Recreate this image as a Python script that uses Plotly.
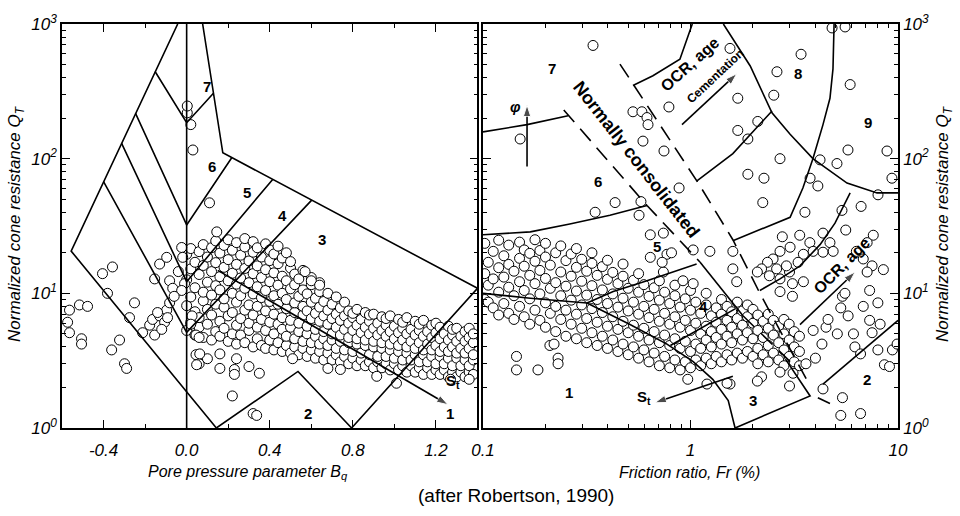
import math
import plotly.graph_objects as go

# ---------------- DATA ----------------
# Left panel: Bq vs Q_T  (columns of points: Bq, list of Q_T)
left_columns = [
    (0.00, [5.3, 8.1, 12.6, 19.5]), (0.02, [6.1, 9.4, 15.2, 21.5]), (0.04, [4.9, 7.3, 11.0, 17.0]),
    (0.06, [5.6, 6.6, 13.8, 20.4]), (0.08, [4.7, 8.8, 10.2, 16.1, 23.0]), (0.10, [5.9, 7.6, 12.1, 18.6]),
    (0.12, [4.5, 6.9, 9.7, 14.5, 21.8]), (0.14, [5.2, 8.3, 11.4, 16.9, 24.5]),
    (0.16, [4.8, 6.2, 10.6, 13.3, 19.9]), (0.18, [5.5, 7.9, 9.1, 15.6, 22.7]),
    (0.20, [4.4, 6.8, 12.4, 17.8, 25.0]), (0.22, [5.0, 7.2, 10.0, 14.1, 20.9]),
    (0.24, [4.2, 5.8, 8.6, 11.7, 16.4, 23.8]), (0.26, [4.9, 6.5, 9.6, 13.0, 19.2]),
    (0.28, [4.3, 7.5, 10.9, 15.3, 22.1, 25.5]), (0.30, [5.3, 6.0, 8.2, 12.0, 17.4]),
    (0.32, [4.0, 6.9, 9.9, 14.0, 20.2, 24.2]), (0.34, [4.6, 5.6, 8.0, 11.2, 16.0, 21.8]),
    (0.36, [4.1, 6.4, 9.3, 13.1, 18.6]), (0.38, [3.9, 5.3, 7.4, 10.5, 15.0, 23.3]),
    (0.40, [4.5, 6.1, 8.7, 12.2, 17.5, 21.0]), (0.42, [3.8, 5.0, 7.0, 9.6, 14.2, 19.6]),
    (0.44, [4.3, 5.9, 8.3, 11.5, 16.6, 22.4]), (0.46, [3.7, 5.4, 6.6, 10.0, 13.4, 18.3]),
    (0.48, [4.1, 4.8, 7.7, 9.0, 12.4, 20.0]), (0.50, [3.6, 5.6, 6.3, 10.8, 15.4, 17.2]),
    (0.52, [4.0, 4.6, 7.2, 8.5, 11.6, 13.9]), (0.54, [3.5, 5.2, 6.0, 9.5, 12.8]),
    (0.56, [3.9, 4.4, 6.9, 8.0, 10.6, 14.8]), (0.58, [3.4, 5.0, 5.7, 7.4, 9.9]),
    (0.60, [3.8, 4.3, 6.5, 8.6, 11.6, 13.1]), (0.62, [3.3, 4.8, 5.4, 7.1, 9.2]),
    (0.64, [3.7, 4.2, 6.2, 7.9, 10.3, 12.0]), (0.66, [3.2, 4.6, 5.2, 6.8, 8.7]),
    (0.68, [3.6, 4.1, 5.9, 7.5, 10.0]), (0.70, [3.2, 4.5, 5.0, 6.5, 8.3]),
    (0.72, [3.5, 3.9, 5.6, 7.0, 9.4]), (0.74, [3.1, 4.4, 4.9, 6.3, 7.8]),
    (0.76, [3.4, 3.8, 5.4, 6.8, 8.6]), (0.78, [3.0, 4.3, 4.7, 6.0, 7.4]),
    (0.80, [3.3, 3.7, 5.3, 6.6, 7.1]), (0.82, [2.9, 4.2, 4.6, 5.8, 7.6]),
    (0.84, [3.2, 3.6, 5.1, 6.4]), (0.86, [2.9, 4.1, 4.5, 5.6, 7.2]),
    (0.88, [3.1, 3.5, 5.0, 6.2, 6.9]), (0.90, [2.8, 4.0, 4.4, 5.5, 7.0]),
    (0.92, [3.1, 3.4, 4.9, 6.0]), (0.94, [2.8, 3.9, 4.3, 5.3, 6.7]),
    (0.96, [3.0, 3.4, 4.8, 5.8, 6.5]), (0.98, [2.7, 3.8, 4.2, 5.2, 6.8]),
    (1.00, [3.0, 3.3, 4.6, 5.7]), (1.02, [2.7, 3.7, 4.1, 5.1, 6.4]),
    (1.04, [2.9, 3.2, 4.5, 5.5, 6.1]), (1.06, [2.6, 3.6, 4.0, 5.0, 6.6]),
    (1.08, [2.9, 3.2, 4.4, 5.4]), (1.10, [2.6, 3.5, 3.9, 4.9, 6.2]),
    (1.12, [2.8, 3.1, 4.3, 5.3, 5.9]), (1.14, [2.5, 3.5, 3.8, 4.8, 6.3]),
    (1.16, [2.8, 3.1, 4.2, 5.2]), (1.18, [2.5, 3.4, 3.8, 4.7, 5.8]),
    (1.20, [2.7, 3.0, 4.1, 5.1, 6.0]), (1.22, [2.5, 3.4, 3.7, 4.6, 5.6]),
    (1.24, [2.7, 3.0, 4.0, 5.0]), (1.26, [2.4, 3.3, 3.7, 4.5, 5.7]),
    (1.28, [2.6, 2.9, 4.0, 4.9, 5.4]), (1.30, [2.4, 3.3, 3.6, 4.4, 5.5]),
    (1.32, [2.6, 2.9, 3.9, 4.8]), (1.34, [2.4, 3.2, 3.6, 4.4, 5.2]),
    (1.36, [2.6, 2.9, 3.9, 4.7, 5.5]), (1.38, [2.5, 3.2, 3.5, 4.3, 5.0]),
]
left_extra = [
    (-0.564, 7.5), (-0.573, 6.1), (-0.564, 5.1), (-0.516, 8.2), (-0.477, 8.0),
    (-0.506, 4.6), (-0.506, 4.2), (-0.405, 14), (-0.357, 15.7), (-0.381, 10),
    (-0.251, 8.5), (-0.275, 6.6), (-0.323, 4.5), (-0.361, 3.8), (-0.299, 3.0),
    (-0.289, 2.77), (-0.212, 5.1), (-0.178, 5.8), (-0.154, 4.9), (-0.164, 6.4),
    (-0.13, 6.8), (-0.096, 7.5), (-0.082, 8.5), (-0.13, 16.5), (-0.096, 18.5),
    (-0.154, 12.8), (-0.082, 12.4), (-0.067, 10.9), (-0.106, 6.1), (-0.092, 6.6),
    (-0.024, 21.9), (-0.019, 18.5), (-0.01, 11.8), (-0.024, 10.5), (0.026, 6.8),
    (0.02, 5.9), (0.045, 4.9), (0.06, 4.7), (0.045, 3.5), (0.06, 3.0), (0.10, 3.27),
    (0.145, 28.6), (0.11, 47), (0.03, 116), (0.02, 179), (0.003, 219), (0.003, 246),
    (0.22, 1.73), (0.32, 1.28), (0.337, 1.24), (0.048, 2.95), (0.063, 3.55),
    (0.16, 3.55), (0.16, 2.77), (0.24, 3.27), (0.23, 2.72), (0.23, 2.5), (0.30, 2.86),
    (0.35, 2.55), (0.51, 3.27), (0.68, 2.77), (0.74, 2.72), (0.915, 2.42),
    (1.01, 2.15), (1.27, 2.3), (1.36, 2.3), (-0.14, 7.2), (-0.12, 5.4),
    (-0.06, 9.5), (-0.04, 14.5), (0.60, 12.4), (0.64, 11.5), (0.57, 14.5),
]

# Right panel: Fr (%) vs Q_T
right_columns = [
    (0.102, [9.0, 14.0, 23.5]), (0.106, [8.6, 11.5, 17.0]), (0.112, [7.8, 12.8, 20.5]),
    (0.119, [6.9, 10.2, 15.5, 24.8]), (0.126, [8.4, 13.2, 19.0]), (0.133, [7.1, 11.1, 16.4, 22.8]),
    (0.141, [6.4, 9.6, 14.6]), (0.150, [8.0, 12.2, 18.2, 24.0]), (0.158, [6.7, 10.5, 15.9, 21.0]),
    (0.168, [5.9, 9.1, 13.6, 19.8]), (0.178, [7.5, 11.8, 17.3, 25.0]), (0.188, [6.3, 9.9, 14.8, 20.8]),
    (0.200, [5.6, 8.5, 12.9, 18.6, 23.5]), (0.211, [7.1, 10.9, 16.2]), (0.224, [5.2, 8.0, 12.0, 20.0]),
    (0.237, [6.4, 9.6, 14.4, 22.5]), (0.251, [4.8, 7.5, 11.3, 17.5]), (0.266, [5.9, 8.9, 13.4, 19.6]),
    (0.282, [4.6, 7.0, 10.4, 15.6, 21.5]), (0.299, [5.5, 8.2, 12.3, 17.9]), (0.316, [4.3, 6.5, 9.7, 14.6]),
    (0.335, [5.1, 7.7, 11.4, 16.7, 20.0]), (0.355, [4.1, 6.1, 9.0, 13.6]), (0.376, [4.8, 7.2, 10.6, 15.8]),
    (0.398, [3.9, 5.7, 8.4, 12.7, 17.6]), (0.422, [4.5, 6.7, 9.9, 14.3]), (0.447, [3.7, 5.4, 7.9, 11.8]),
    (0.473, [4.2, 6.2, 9.2, 13.4, 16.5]), (0.501, [3.5, 5.1, 7.4, 10.9]), (0.531, [4.0, 5.8, 8.6, 12.5]),
    (0.562, [3.3, 4.8, 7.0, 10.2, 14.0]), (0.596, [3.8, 5.5, 8.0, 11.6]), (0.631, [3.1, 4.5, 6.6, 9.5]),
    (0.668, [3.6, 5.2, 7.6, 11.0]), (0.708, [2.9, 4.3, 6.2, 8.9, 12.4]), (0.750, [3.4, 4.9, 7.1, 10.2]),
    (0.794, [2.8, 4.1, 5.9, 8.4]), (0.841, [3.2, 4.6, 6.7, 9.6, 11.5]), (0.891, [2.7, 3.9, 5.6, 7.9]),
    (0.944, [3.1, 4.4, 6.3, 9.1]), (1.00, [2.8, 3.7, 5.3, 7.5, 10.5]), (1.06, [3.2, 4.2, 6.0, 8.6]),
    (1.12, [2.9, 3.9, 5.0, 7.1]), (1.19, [3.3, 4.5, 5.7, 8.2, 10.0]), (1.26, [3.0, 4.0, 5.2, 6.8]),
    (1.33, [3.4, 4.7, 6.1, 7.8]), (1.41, [3.1, 4.2, 5.4, 7.0, 9.0]), (1.50, [3.5, 4.8, 6.3, 8.0]),
    (1.58, [3.2, 4.3, 5.6, 7.3]), (1.68, [3.6, 5.0, 6.5, 8.6]), (1.78, [3.3, 4.5, 5.8, 7.4]),
    (1.88, [3.7, 5.1, 6.7, 8.2]), (2.00, [3.4, 4.6, 6.0, 7.6]), (2.11, [3.0, 3.9, 5.3, 6.9]),
    (2.24, [3.5, 4.7, 6.2]), (2.37, [3.1, 4.1, 5.5, 7.0]), (2.51, [3.6, 4.9, 6.3]),
    (2.66, [3.2, 4.3, 5.7]), (2.82, [2.9, 3.8, 5.0, 6.4]), (2.99, [3.4, 4.5, 5.9]),
    (3.16, [3.1, 4.0, 5.2]), (3.35, [2.9, 3.7, 4.8]),
]
right_extra = [
    (0.339, 693), (0.151, 140), (0.528, 223), (0.583, 223), (0.617, 202), (0.624, 179),
    (0.590, 135), (0.745, 114), (0.787, 242), (0.881, 60.6), (0.347, 40), (0.433, 47.2),
    (0.577, 48), (0.565, 38),
    (1.55, 659), (3.41, 596), (4.81, 935), (5.56, 951), (2.61, 442), (5.88, 355),
    (1.69, 281), (2.52, 296), (2.11, 189), (1.69, 162), (1.89, 140), (2.70, 100),
    (4.21, 98), (5.08, 92), (5.74, 116), (8.85, 114), (9.35, 71.6), (8.01, 53.9),
    (6.64, 44.2), (5.37, 41.3), (3.56, 40), (2.23, 47.2), (2.26, 71.6), (1.89, 76.6),
    (3.77, 71.6), (4.11, 62.7),
    (2.77, 26.3), (3.36, 27), (3.76, 23.8), (4.35, 28), (4.7, 23.8), (4.87, 20.5),
    (4.35, 20.2), (3.9, 20.5), (3.5, 19.5), (3.02, 22), (2.7, 20.5), (2.5, 18),
    (2.35, 17), (2.2, 15.2), (2.1, 14.4), (2.4, 13.5), (2.7, 12.8), (3.0, 14.4),
    (3.3, 17), (2.9, 16), (2.6, 15.2), (3.1, 11.8), (3.5, 12.2), (2.7, 10.3),
    (3.1, 9.5), (1.6, 15.2), (1.67, 12.2), (1.24, 20.5), (1.6, 20.5), (1.03, 21),
    (3.12, 2.55), (2.7, 2.6), (4.3, 4.2), (4.5, 5.6), (5.1, 5.0), (5.3, 7.8),
    (5.4, 9.5), (5.55, 10), (5.75, 6.8), (6.1, 5.0), (6.2, 4.0), (6.6, 3.55),
    (6.8, 8.0), (7.3, 6.3), (7.5, 5.1), (8.0, 8.5), (8.2, 5.9), (8.0, 3.8),
    (8.6, 2.95), (9.1, 2.86), (9.4, 3.8), (9.9, 4.2), (7.3, 10.5), (7.5, 16),
    (8.5, 15), (7.6, 27), (7.1, 23.8), (5.6, 29.5), (6.3, 20.5), (6.8, 18), (7.1, 14.4),
    (4.6, 6.4), (3.9, 5.3), (4.0, 3.3), (3.6, 3.0),
    (5.4, 1.68), (5.3, 1.24), (6.6, 1.28), (4.35, 1.95), (3.0, 2.05), (2.2, 2.4),
    (2.1, 2.23), (1.55, 2.12), (0.97, 2.3), (1.2, 2.12), (1.5, 2.15),
    (0.184, 2.7), (0.145, 3.4), (0.145, 2.7), (0.230, 3.3), (0.230, 3.0),
    (0.21, 4.1), (0.22, 4.2),
    (0.64, 27.2), (0.74, 28), (0.77, 19.5), (0.64, 18.5), (0.81, 20), (0.74, 14.4),
    (0.92, 12.4), (1.03, 11.8), (0.73, 17),
]

# Zone boundaries, left chart (Bq, Q_T)
left_outer = [(0.143, 1), (-0.556, 20.6), (-0.043, 1000)]
left_vertical = [(0, 1), (0, 1000)]
left_upper = [(0.077, 1000), (0.174, 110.5), (1.4, 10.9)]
left_b76 = [(-0.152, 444), (0, 185), (0.129, 306)]
left_b65 = [(-0.246, 217), (0, 32.2), (0.217, 101.7)]
left_b54 = [(-0.313, 130), (0, 12.2), (0.414, 70.1)]
left_b43 = [(-0.40, 67.5), (0, 5.13), (0.602, 49.2)]
left_zone2 = [(0.143, 1), (0.536, 2.63), (0.794, 1), (1.4, 10.9)]
left_st_arrow = [(0.15, 14.8), (1.258, 1.49)]

# Zone boundaries, right chart (Fr, Q_T)
r_b76 = [(0.1, 158), (0.163, 179), (0.257, 208)]
r_b65 = [(0.1, 27.2), (0.169, 28.6), (0.262, 32.7), (0.409, 38), (0.617, 44.9)]
r_b1 = [(0.1, 10), (0.169, 9.2), (0.317, 8.47)]
r_b45 = [(0.317, 8.47), (0.424, 10.3), (0.617, 12.4), (1.07, 16.5)]
r_b13 = [(0.317, 8.47), (0.511, 5.86), (0.770, 4.2), (1.03, 3.11), (1.28, 2.30), (1.52, 1.60), (1.64, 1.0)]
r_b34 = [(0.80, 4.1), (1.64, 7.66)]
r_zone3 = [(1.64, 1.0), (3.77, 1.73), (2.88, 3.22)]
r_nc1_dash_a = [(0.245, 230), (0.617, 44.9), (1.11, 17.1)]
r_nc1_solid = [(1.11, 17.1), (1.79, 6.81)]
r_nc1_dash_b = [(1.79, 6.81), (3.02, 3.11)]
r_nc2 = [(0.457, 504), (1.09, 65.9), (1.60, 25), (2.16, 10), (3.77, 2.05)]
r_a1 = [(0.528, 349), (0.659, 413), (0.889, 548), (1.02, 1000)]
r_a2 = [(1.07, 68), (1.60, 109), (2.47, 226)]
r_b8 = [(1.44, 1000), (1.94, 488), (2.47, 219), (3.02, 152), (3.89, 100), (5.68, 65.9), (7.93, 55.7), (10, 55.7)]
r_a3 = [(1.60, 24.6), (2.16, 29.6), (3.02, 36.7), (3.48, 60.6), (3.89, 100), (4.35, 179), (4.70, 281), (4.86, 464), (4.92, 1000)]
r_a4 = [(2.16, 10.5), (2.70, 12.8), (3.37, 16), (4.21, 23), (4.97, 33.2), (5.88, 55.7)]
r_zone2 = [(4.35, 2.12), (10, 6.3)]
r_arc = [(4.11, 1.68), (4.70, 1.52)]
r_st_arrow = [(1.60, 2.42), (0.674, 1.54)]
r_ocr_low_arrow = [(3.37, 5.86), (6.21, 14.4)]
r_ocr_top_arrow = [(0.910, 179), (1.67, 427)]
r_phi_arrow = [(0.163, 87.5), (0.163, 250)]

left_labels = [("7", 0.096, 344), ("6", 0.12, 87.5), ("5", 0.289, 55.7), ("4", 0.463, 38),
               ("3", 0.651, 25), ("2", 0.583, 1.28), ("1", 1.267, 1.28)]
right_labels = [("7", 0.215, 464), ("6", 0.358, 68), ("5", 0.690, 22.3), ("4", 1.15, 8.05),
                ("3", 2.0, 1.60), ("2", 7.1, 2.30), ("1", 0.259, 1.82), ("8", 3.30, 427), ("9", 7.16, 185)]

# axis ticks
y_major = [1, 10, 100, 1000]
y_major_text = ["10<sup>0</sup>", "10<sup>1</sup>", "10<sup>2</sup>", "10<sup>3</sup>"]
y_minor = [m * d for d in (1, 10, 100) for m in range(2, 10)]
bq_major = [-0.4, 0.0, 0.4, 0.8, 1.2]
bq_major_text = ["-0.4", "0.0", "0.4", "0.8", "1.2"]
bq_minor = [-0.2, 0.2, 0.6, 1.0]
fr_major = [0.1, 1, 10]
fr_major_text = ["0.1", "1", "10"]
fr_minor = [m * d for d in (0.1, 1) for m in range(2, 10)]

# ---------------- FIGURE ----------------
FONT = "Liberation Sans, Arial, sans-serif"
fig = go.Figure()


def expand(columns, extra):
    xs, ys = [], []
    for x, qs in columns:
        for q in qs:
            xs.append(x)
            ys.append(q)
    for x, q in extra:
        xs.append(x)
        ys.append(q)
    return xs, ys


def add_line(pts, xa, ya, dash=None, width=1.6):
    fig.add_trace(go.Scatter(x=[p[0] for p in pts], y=[p[1] for p in pts], mode="lines",
                             line=dict(color="black", width=width, dash=dash),
                             xaxis=xa, yaxis=ya, hoverinfo="skip", showlegend=False))


def add_arrow(pts, xa, ya, width=1.6, size=12):
    fig.add_trace(go.Scatter(x=[p[0] for p in pts], y=[p[1] for p in pts], mode="lines+markers",
                             line=dict(color="black", width=width),
                             marker=dict(symbol=["circle"] * (len(pts) - 1) + ["arrow"],
                                         size=[0] * (len(pts) - 1) + [size],
                                         angleref="previous", color="black"),
                             xaxis=xa, yaxis=ya, hoverinfo="skip", showlegend=False))


marker_style = dict(symbol="circle", size=10, color="white", line=dict(color="black", width=1))

lx, ly = expand(left_columns, left_extra)
fig.add_trace(go.Scatter(x=lx, y=ly, mode="markers", marker=marker_style, xaxis="x", yaxis="y",
                         showlegend=False, hoverinfo="skip"))
rx, ry = expand(right_columns, right_extra)
fig.add_trace(go.Scatter(x=rx, y=ry, mode="markers", marker=marker_style, xaxis="x2", yaxis="y2",
                         showlegend=False, hoverinfo="skip"))

for pts in (left_outer, left_vertical, left_upper, left_b76, left_b65, left_b54, left_b43, left_zone2):
    add_line(pts, "x", "y")
add_arrow(left_st_arrow, "x", "y")

for pts in (r_b76, r_b65, r_b1, r_b45, r_b13, r_b34, r_zone3, r_nc1_solid, r_a1, r_a2, r_b8, r_a3, r_a4, r_zone2):
    add_line(pts, "x2", "y2")
for pts in (r_nc1_dash_a, r_nc1_dash_b, r_nc2, r_arc):
    add_line(pts, "x2", "y2", dash="16px,9px")
for pts in (r_st_arrow, r_ocr_low_arrow, r_ocr_top_arrow, r_phi_arrow):
    add_arrow(pts, "x2", "y2")

annotations = []
lab_font = dict(family=FONT, size=15, color="black", weight="bold")
for t, x, q in left_labels:
    annotations.append(dict(text=t, x=x, y=math.log10(q), xref="x", yref="y", showarrow=False, font=lab_font))
for t, x, q in right_labels:
    annotations.append(dict(text=t, x=math.log10(x), y=math.log10(q), xref="x2", yref="y2", showarrow=False, font=lab_font))


def rtext(t, fr, q, angle, size, italic=False):
    f = dict(family=FONT, size=size, color="black", weight="bold")
    if italic:
        f["style"] = "italic"
    annotations.append(dict(text=t, x=math.log10(fr), y=math.log10(q), xref="x2", yref="y2",
                            showarrow=False, textangle=angle, font=f))


rtext("Normally consolidated", 0.552, 98.4, 52, 18)
rtext("OCR, age", 0.99, 500, -42, 16)
rtext("Cementation", 1.32, 410, -43, 12)
rtext("OCR, age", 5.37, 16, -45, 16)
rtext("φ", 0.143, 246, 0, 15, italic=True)
rtext("S<sub>t</sub>", 0.60, 1.68, 0, 15)
annotations.append(dict(text="S<sub>t</sub>", x=1.282, y=math.log10(2.23), xref="x", yref="y",
                        showarrow=False, font=dict(family=FONT, size=15, color="black", weight="bold")))

title_font = dict(family=FONT, size=16, color="black", style="italic")
annotations += [
    dict(text="Pore pressure parameter B<sub>q</sub>", x=0.2225, y=-0.111, xref="paper", yref="paper",
         showarrow=False, font=title_font, xanchor="center", yanchor="middle"),
    dict(text="Friction ratio, Fr (%)", x=0.751, y=-0.111, xref="paper", yref="paper",
         showarrow=False, font=title_font, xanchor="center", yanchor="middle"),
    dict(text="(after Robertson, 1990)", x=0.543, y=-0.167, xref="paper", yref="paper",
         showarrow=False, font=dict(family=FONT, size=19, color="black"), xanchor="center", yanchor="middle"),
    dict(text="Normalized cone resistance Q<sub>T</sub>", x=-0.055, y=0.505, xref="paper", yref="paper",
         showarrow=False, font=dict(family=FONT, size=17, color="black", style="italic"),
         textangle=-90, xanchor="center", yanchor="middle"),
    dict(text="Normalized cone resistance Q<sub>T</sub>", x=1.055, y=0.505, xref="paper", yref="paper",
         showarrow=False, font=dict(family=FONT, size=17, color="black", style="italic"),
         textangle=-90, xanchor="center", yanchor="middle"),
]

tick_font = dict(family=FONT, size=17, color="black", style="italic")
common = dict(showline=True, linecolor="black", linewidth=1.5, mirror="ticks", ticks="inside",
              ticklen=8, tickwidth=1, tickcolor="black", showgrid=False, zeroline=False,
              tickfont=tick_font, tickmode="array")


def minor(vals):
    return dict(tickmode="array", tickvals=vals, ticks="inside", ticklen=4, tickwidth=1,
                tickcolor="black", showgrid=False)


fig.update_layout(
    width=960, height=516,
    margin=dict(l=62, r=62, t=14, b=88),
    plot_bgcolor="white", paper_bgcolor="white", showlegend=False,
    xaxis=dict(domain=[0, 0.497], range=[-0.6, 1.4], tickvals=bq_major, ticktext=bq_major_text,
               minor=minor(bq_minor), anchor="y", ticklabelstandoff=6, **common),
    yaxis=dict(type="log", range=[0, 3], tickvals=y_major, ticktext=y_major_text,
               minor=minor(y_minor), anchor="x", **common),
    xaxis2=dict(domain=[0.5036, 1], type="log", range=[-1, 1], tickvals=fr_major, ticktext=fr_major_text,
                minor=minor(fr_minor), anchor="y2", ticklabelstandoff=6, **common),
    yaxis2=dict(type="log", range=[0, 3], tickvals=y_major, ticktext=y_major_text,
                minor=minor(y_minor), anchor="x2", side="right", **common),
    annotations=annotations,
)

fig.write_html("out.html")
